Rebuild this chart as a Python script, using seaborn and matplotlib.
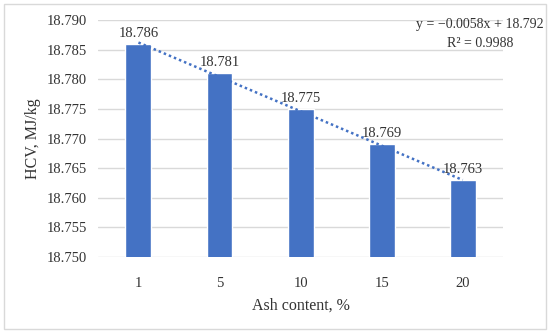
import numpy as np
import pandas as pd
import matplotlib.pyplot as plt
import seaborn as sns
from matplotlib.patches import Rectangle

# data
ash = ['1', '5', '10', '15', '20']
hcv = [18.786, 18.781, 18.775, 18.769, 18.763]
slope, intercept = -0.0058, 18.792
eq_text = 'y = \u22120.0058x + 18.792'
r2_text = 'R\u00b2 = 0.9988'

df = pd.DataFrame({'ash': ash, 'hcv': hcv})

sns.set_style('white')
plt.rcParams['font.family'] = ['Liberation Serif', 'DejaVu Serif']

fig = plt.figure(figsize=(5.5, 3.33), dpi=100)
ax = fig.add_axes([0.178, 0.228, 0.737, 0.712])

sns.barplot(x='ash', y='hcv', data=df, color='#4472C4', saturation=1, width=0.32, ax=ax, zorder=3)

# trendline over category positions 1..5
xs = np.arange(len(ash))
ax.plot(xs, slope * (xs + 1) + intercept, linestyle=(0, (1, 1.2)), color='#4472C4', lw=1.8, zorder=4)

for i, v in enumerate(hcv):
    ax.text(i, v + 0.0007, f'{v:.3f}', ha='center', va='bottom', fontsize=10.5, color='#333333', zorder=5)

ax.set_ylim(18.750, 18.790)
ax.set_yticks(np.arange(18.750, 18.7901, 0.005))
ax.set_yticklabels([f'{t:.3f}' for t in np.arange(18.750, 18.7901, 0.005)])
ax.set_xlim(-0.5, 4.5)
ax.yaxis.grid(True, color='#d9d9d9', lw=1, zorder=0)
ax.set_axisbelow(True)
for s in ax.spines.values():
    s.set_visible(False)
ax.tick_params(axis='both', length=0, labelsize=10.5, colors='#333333', pad=8)
ax.tick_params(axis='x', pad=14)
ax.set_xlabel('Ash content, %', fontsize=11.5, color='#333333', labelpad=6)
ax.set_ylabel('HCV, MJ/kg', fontsize=11.5, color='#333333', labelpad=4)

fig.text(0.873, 0.925, eq_text, ha='center', va='center', fontsize=10, color='#333333')
fig.text(0.873, 0.87, r2_text, ha='center', va='center', fontsize=10, color='#333333')

fig.patches.append(Rectangle((0.007, 0.012), 0.986, 0.976, transform=fig.transFigure,
                             fill=False, edgecolor='#d9d9d9', lw=1))

fig.savefig('out.png', dpi=100)
